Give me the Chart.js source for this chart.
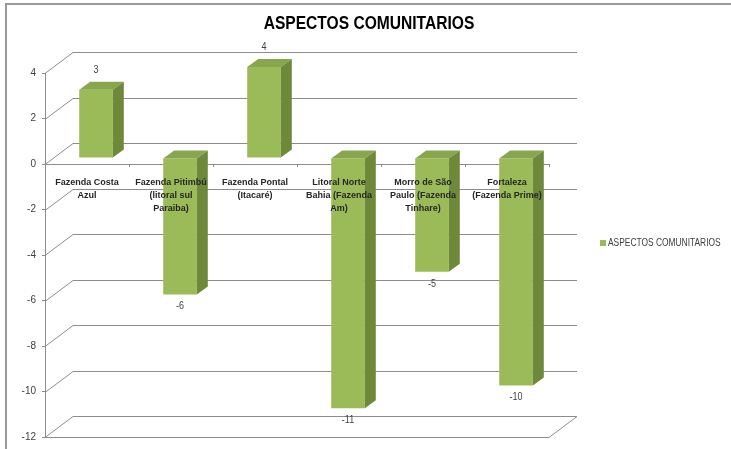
<!DOCTYPE html>
<html>
<head>
<meta charset="utf-8">
<title>Aspectos comunitarios</title>
<script src="https://cdn.jsdelivr.net/npm/chart.js@4"></script>
<style>
  html, body { margin: 0; padding: 0; background: #fff; }
  #chart { display: block; }
</style>
</head>
<body>
<canvas id="chart" width="731" height="449"></canvas>
<script>
// Series data
const chartTitle = 'ASPECTOS COMUNITARIOS';
const seriesName = 'ASPECTOS COMUNITARIOS';
const categories = [
    ['Fazenda Costa', 'Azul'],
    ['Fazenda Pitimbú', '(litoral sul', 'Paraiba)'],
    ['Fazenda Pontal', '(Itacaré)'],
    ['Litoral Norte', 'Bahia (Fazenda', 'Am)'],
    ['Morro de São', 'Paulo (Fazenda', 'Tinhare)'],
    ['Fortaleza', '(Fazenda Prime)']
];
const values = [3, -6, 4, -11, -5, -10];
const yMin = -12;
const yMax = 4;
const yStep = 2;

const FONT = '"Liberation Sans", Arial, sans-serif';
const colors = {
    front: '#9bbb59',
    top: '#88a64d',
    side: '#6e8939',
    grid: '#8c8c8c',
    text: '#404040',
    frame: '#9a9a9a'
};

// 3D offsets: back wall depth, bar plane shift, bar depth
const WALL = { dx: 28, dy: -21 };
const SHIFT = { dx: 9, dy: -6 };
const DEPTH = { dx: 11, dy: -8 };

// narrow text: draw squeezed horizontally
function narrowText(ctx, text, x, y, squeeze) {
    ctx.save();
    ctx.translate(x, y);
    ctx.scale(squeeze, 1);
    ctx.fillText(text, 0, 0);
    ctx.restore();
}

const pseudo3d = {
    id: 'pseudo3d',

    // walls, floor and zero line behind the bars
    beforeDatasetsDraw(chart) {
        const { ctx, chartArea: a, scales: { y } } = chart;
        ctx.save();
        ctx.strokeStyle = colors.grid;
        ctx.lineWidth = 1;
        y.ticks.forEach(t => {
            const py = Math.round(y.getPixelForValue(t.value)) + 0.5;
            ctx.beginPath();
            ctx.moveTo(a.left, py);
            ctx.lineTo(a.left + WALL.dx, py + WALL.dy);
            ctx.lineTo(a.right + WALL.dx, py + WALL.dy);
            ctx.stroke();
        });

        const fy = Math.round(y.getPixelForValue(y.min)) + 0.5;
        ctx.beginPath();
        ctx.moveTo(a.left, fy);
        ctx.lineTo(a.right, fy);
        ctx.lineTo(a.right + WALL.dx, fy + WALL.dy);
        ctx.stroke();

        const zy = Math.round(y.getPixelForValue(0)) + 0.5;
        ctx.beginPath();
        ctx.moveTo(a.left, zy);
        ctx.lineTo(a.right, zy);
        ctx.stroke();
        ctx.restore();

        // bars sit a little deeper than the front axis
        ctx.save();
        ctx.translate(SHIFT.dx, SHIFT.dy);
    },

    // top/side faces and value labels, still in the shifted frame
    afterDatasetsDraw(chart) {
        const { ctx } = chart;
        const meta = chart.getDatasetMeta(0);
        const data = chart.data.datasets[0].data;
        meta.data.forEach((bar, i) => {
            const { x, y, base, width } = bar.getProps(['x', 'y', 'base', 'width'], true);
            const l = x - width / 2;
            const r = x + width / 2;
            const top = Math.min(y, base);
            const bottom = Math.max(y, base);

            ctx.fillStyle = colors.top;
            ctx.beginPath();
            ctx.moveTo(l, top);
            ctx.lineTo(l + DEPTH.dx, top + DEPTH.dy);
            ctx.lineTo(r + DEPTH.dx, top + DEPTH.dy);
            ctx.lineTo(r, top);
            ctx.closePath();
            ctx.fill();

            ctx.fillStyle = colors.side;
            ctx.beginPath();
            ctx.moveTo(r, top);
            ctx.lineTo(r + DEPTH.dx, top + DEPTH.dy);
            ctx.lineTo(r + DEPTH.dx, bottom + DEPTH.dy);
            ctx.lineTo(r, bottom);
            ctx.closePath();
            ctx.fill();

            const v = data[i];
            ctx.fillStyle = colors.text;
            ctx.font = '10px ' + FONT;
            ctx.textAlign = 'center';
            ctx.textBaseline = 'middle';
            narrowText(ctx, String(v), x, v >= 0 ? top - 20 : bottom + 12, 0.9);
        });
        ctx.restore();
    },

    // frame, title and legend
    afterDraw(chart) {
        const { ctx } = chart;
        ctx.save();
        ctx.strokeStyle = colors.frame;
        ctx.lineWidth = 2;
        ctx.beginPath();
        ctx.moveTo(6, 449);
        ctx.lineTo(6, 4);
        ctx.lineTo(731, 4);
        ctx.stroke();

        ctx.fillStyle = '#000';
        ctx.font = 'bold 19px ' + FONT;
        ctx.textAlign = 'center';
        ctx.textBaseline = 'middle';
        narrowText(ctx, chartTitle, 369, 24, 0.82);

        const ds = chart.data.datasets[0];
        ctx.fillStyle = ds.backgroundColor;
        ctx.fillRect(600, 240, 6, 6);
        ctx.fillStyle = colors.text;
        ctx.font = '10px ' + FONT;
        ctx.textAlign = 'left';
        narrowText(ctx, ds.label, 608, 243.5, 0.84);
        ctx.restore();
    }
};

new Chart(document.getElementById('chart'), {
    type: 'bar',
    data: {
        labels: categories,
        datasets: [{
            label: seriesName,
            data: values,
            backgroundColor: colors.front,
            categoryPercentage: 0.8,
            barPercentage: 0.5,
            clip: false
        }]
    },
    options: {
        responsive: false,
        animation: false,
        layout: { padding: { top: 73, right: 182, bottom: 10, left: 0 } },
        plugins: {
            legend: { display: false },
            title: { display: false },
            tooltip: { enabled: false }
        },
        scales: {
            x: {
                position: { y: 0 },
                ticks: {
                    z: 1,
                    color: '#262626',
                    font: { family: FONT, size: 9, weight: 'bold', lineHeight: 1.45 },
                    padding: 9,
                    maxRotation: 0,
                    autoSkip: false
                },
                grid: { drawOnChartArea: false, drawTicks: true, tickLength: 3, color: colors.grid },
                border: { display: false },
                afterFit(s) { s.height = 0; }
            },
            y: {
                min: yMin,
                max: yMax,
                ticks: {
                    stepSize: yStep,
                    color: colors.text,
                    font: { family: FONT, size: 10 },
                    padding: 6
                },
                grid: { drawOnChartArea: false, drawTicks: true, tickLength: 3, color: colors.grid },
                border: { display: true, color: colors.grid },
                afterFit(s) { s.width = 45; }
            }
        }
    },
    plugins: [pseudo3d]
});
</script>
</body>
</html>
